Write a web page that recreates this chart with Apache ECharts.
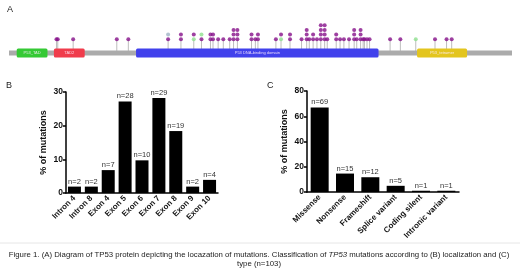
<!DOCTYPE html>
<html>
<head>
<meta charset="utf-8">
<script src="https://cdn.jsdelivr.net/npm/echarts@6/dist/echarts.min.js"></script>
<style>
  html, body { margin: 0; padding: 0; background: #fff; }
  #chart { width: 520px; height: 276px; }
</style>
</head>
<body>
<div id="chart"></div>
<script>
// panel A: protein diagram (amino acid positions)
const proteinLength = 393
const domainNames = ['P53_TAD', 'TAD2', 'P53 DNA-binding domain', 'P53_tetramer']
const domainStart = [7, 36, 100, 319]
const domainEnd = [31, 60, 289, 358]

// mutated sites, and the mutation class of each stacked dot (bottom to top)
// M = missense, S = silent, U = other
const sitePos = [38, 39, 51, 85, 94, 125, 135, 145, 151, 158, 160, 164, 168, 173, 176, 179,
  190, 193, 195, 209, 213, 220, 229, 233, 235, 238, 241, 244, 247, 249, 256, 259, 262, 266,
  270, 272, 275, 277, 278, 280, 282, 298, 306, 318, 333, 342, 346]
const siteDots = ['M', 'M', 'M', 'M', 'M', 'MU', 'MM', 'SM', 'MS', 'MM', 'MM', 'M', 'M', 'M', 'MMM', 'MMM',
  'MM', 'M', 'MM', 'M', 'SM', 'MM', 'M', 'MMM', 'M', 'MM', 'M', 'MMMM', 'MMMM', 'M', 'MM', 'M', 'M', 'M',
  'MMM', 'M', 'MMM', 'M', 'M', 'M', 'M', 'M', 'M', 'S', 'M', 'M', 'M']

// panel B: localization
const locCategories = ['Intron 4', 'Intron 8', 'Exon 4', 'Exon 5', 'Exon 6', 'Exon 7', 'Exon 8', 'Exon 9', 'Exon 10']
const locPercent = [1.9, 1.9, 6.8, 27.2, 9.7, 28.2, 18.4, 1.9, 3.9]
const locCount = [2, 2, 7, 28, 10, 29, 19, 2, 4]
const locTicks = [0, 10, 20, 30]

// panel C: type
const typeCategories = ['Missense', 'Nonsense', 'Frameshift', 'Splice variant', 'Coding silent', 'Intronic variant']
const typePercent = [67.0, 14.6, 11.7, 4.9, 1.0, 1.0]
const typeCount = [69, 15, 12, 5, 1, 1]
const typeTicks = [0, 20, 40, 60, 80]

const FONT = '"Liberation Sans", Arial, sans-serif'
const domainColors = ['#35c935', '#f03c4c', '#4141ec', '#e3c51e']
const dotColors = { M: '#86108a', S: '#8fe08f', U: '#9fb3c6' }

// y units in panel A: 1 unit = 1 px, backbone centre at 8
const BACKBONE_Y = 8
const LEVEL1_Y = 21.7
const LEVEL_STEP = 4.7

const stemData = sitePos.map((p, i) => [p, siteDots[i].length])
const dotData = []
sitePos.forEach((p, i) => {
  siteDots[i].split('').forEach((c, k) => {
    dotData.push({ value: [p, LEVEL1_Y + k * LEVEL_STEP], itemStyle: { color: dotColors[c] } })
  })
})
const domainData = domainNames.map((n, i) => [domainStart[i], domainEnd[i], i])

const chart = echarts.init(document.getElementById('chart'), null, { renderer: 'canvas' })

function barAxisX(idx, cats) {
  return {
    gridIndex: idx,
    type: 'category',
    data: cats,
    axisLine: { lineStyle: { color: '#000', width: 1.5 } },
    axisTick: { show: false },
    axisLabel: {
      rotate: 45, interval: 0, margin: 4,
      fontFamily: FONT, fontWeight: 'bold', fontSize: 8, color: '#111'
    }
  }
}

function barAxisY(idx, ticks) {
  return {
    gridIndex: idx,
    type: 'value',
    min: ticks[0],
    max: ticks[ticks.length - 1],
    interval: ticks[1] - ticks[0],
    name: '% of mutations',
    nameLocation: 'middle',
    nameGap: 18,
    nameTextStyle: { fontFamily: FONT, fontWeight: 'bold', fontSize: 9, color: '#111' },
    axisLine: { show: true, lineStyle: { color: '#000', width: 1.5 } },
    axisTick: { show: true, length: 3, lineStyle: { color: '#000', width: 1.5 } },
    splitLine: { show: false },
    axisLabel: { margin: 3, fontFamily: FONT, fontWeight: 'bold', fontSize: 8.5, color: '#111' }
  }
}

const option = {
  animation: false,
  backgroundColor: '#fff',
  grid: [
    { left: 9, right: 8, top: 21, height: 40 },
    { left: 66, width: 152, top: 92, height: 101 },
    { left: 307, width: 152, top: 91, height: 101 }
  ],
  xAxis: [
    { gridIndex: 0, type: 'value', min: 1, max: proteinLength, show: false },
    barAxisX(1, locCategories),
    barAxisX(2, typeCategories)
  ],
  yAxis: [
    { gridIndex: 0, type: 'value', min: 0, max: 40, show: false },
    barAxisY(1, locTicks),
    barAxisY(2, typeTicks)
  ],
  series: [
    {
      type: 'custom',
      xAxisIndex: 0, yAxisIndex: 0,
      z: 1,
      data: stemData,
      renderItem: (params, api) => {
        const a = api.coord([api.value(0), BACKBONE_Y])
        const b = api.coord([api.value(0), LEVEL1_Y])
        return {
          type: 'line',
          shape: { x1: a[0], y1: a[1], x2: b[0], y2: b[1] },
          style: { stroke: '#bdbdbd', lineWidth: 1 }
        }
      }
    },
    {
      // backbone
      type: 'custom',
      xAxisIndex: 0, yAxisIndex: 0,
      z: 2,
      data: [[1, proteinLength]],
      renderItem: (params, api) => {
        const a = api.coord([api.value(0), BACKBONE_Y + 2.5])
        const b = api.coord([api.value(1), BACKBONE_Y - 2.5])
        return {
          type: 'rect',
          shape: { x: a[0], y: a[1], width: b[0] - a[0], height: b[1] - a[1] },
          style: { fill: '#ababab' }
        }
      }
    },
    {
      // domains
      type: 'custom',
      xAxisIndex: 0, yAxisIndex: 0,
      z: 3,
      data: domainData,
      renderItem: (params, api) => {
        const i = api.value(2)
        const a = api.coord([api.value(0), BACKBONE_Y + 4.5])
        const b = api.coord([api.value(1), BACKBONE_Y - 4.5])
        return {
          type: 'group',
          children: [
            {
              type: 'rect',
              shape: { x: a[0], y: a[1], width: b[0] - a[0], height: b[1] - a[1], r: 1.5 },
              style: { fill: domainColors[i] }
            },
            {
              type: 'text',
              x: (a[0] + b[0]) / 2,
              y: (a[1] + b[1]) / 2,
              style: {
                text: domainNames[i],
                fill: 'rgba(255,240,255,0.85)',
                font: '4px ' + FONT,
                align: 'center',
                verticalAlign: 'middle'
              }
            }
          ]
        }
      }
    },
    {
      type: 'scatter',
      xAxisIndex: 0, yAxisIndex: 0,
      z: 4,
      symbolSize: 4,
      data: dotData
    },
    {
      type: 'bar',
      xAxisIndex: 1, yAxisIndex: 1,
      data: locPercent,
      barWidth: 13,
      itemStyle: { color: '#000' },
      label: {
        show: true, position: 'top', distance: 1,
        formatter: p => 'n=' + locCount[p.dataIndex],
        fontFamily: FONT, fontSize: 7.5, color: '#333'
      }
    },
    {
      type: 'bar',
      xAxisIndex: 2, yAxisIndex: 2,
      data: typePercent,
      barWidth: 18,
      itemStyle: { color: '#000' },
      label: {
        show: true, position: 'top', distance: 1,
        formatter: p => 'n=' + typeCount[p.dataIndex],
        fontFamily: FONT, fontSize: 7.5, color: '#333'
      }
    }
  ],
  graphic: [
    { type: 'text', left: 7, top: 5, style: { text: 'A', font: '9px ' + FONT, fill: '#222' } },
    { type: 'text', left: 6, top: 81, style: { text: 'B', font: '9px ' + FONT, fill: '#222' } },
    { type: 'text', left: 267, top: 81, style: { text: 'C', font: '9px ' + FONT, fill: '#222' } },
    { type: 'line', shape: { x1: 0, y1: 243, x2: 520, y2: 243 }, style: { stroke: '#e6e6e6', lineWidth: 1 } },
    {
      type: 'text',
      x: 259, y: 255,
      style: {
        text: 'Figure 1. (A) Diagram of TP53 protein depicting the locazation of mutations. Classification of {i|TP53} mutations according to (B) localization and (C)',
        font: '7.8px ' + FONT,
        fill: '#222',
        align: 'center',
        verticalAlign: 'middle',
        rich: { i: { fontStyle: 'italic', fontSize: 7.8, fontFamily: FONT } }
      }
    },
    {
      type: 'text',
      x: 259, y: 264,
      style: { text: 'type (n=103)', font: '7.8px ' + FONT, fill: '#222', align: 'center', verticalAlign: 'middle' }
    }
  ]
}

chart.setOption(option)
window.addEventListener('resize', () => chart.resize())
</script>
</body>
</html>
